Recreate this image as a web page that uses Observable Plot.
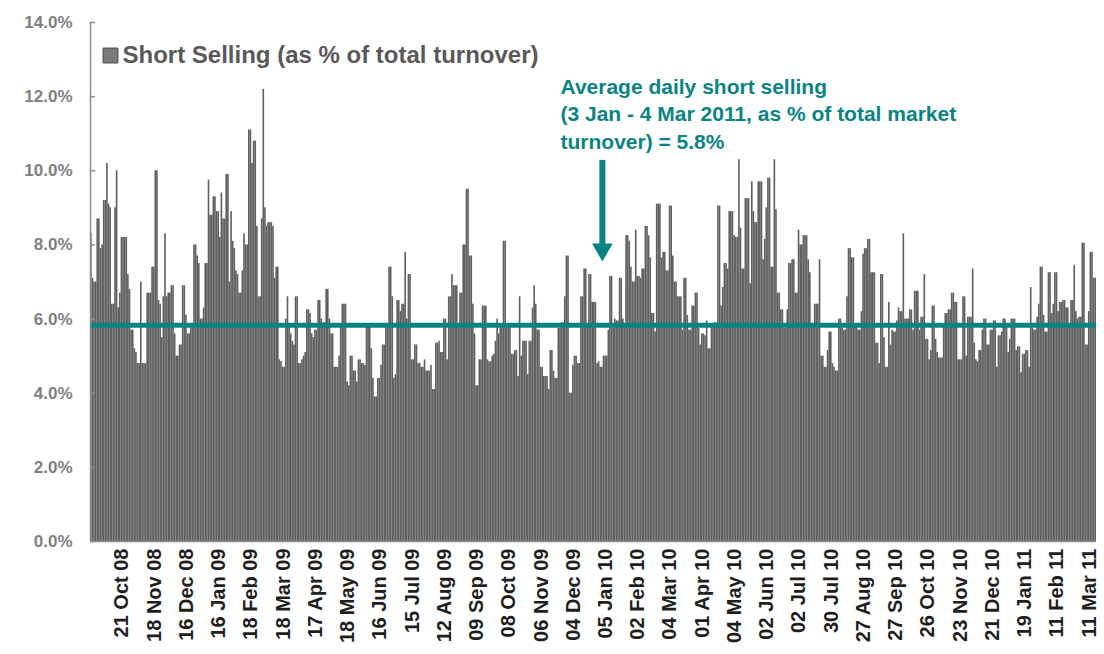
<!DOCTYPE html>
<html><head><meta charset="utf-8">
<script src="https://cdn.jsdelivr.net/npm/d3@7"></script>
<script src="https://cdn.jsdelivr.net/npm/@observablehq/plot@0.6"></script>
<style>body{margin:0;background:#fff}#chart svg{display:block}</style>
</head><body><div id="chart"></div>
<script>
// Daily short selling as % of total turnover (trading days, Sep 2008 - Mar 2011)
const shortSelling = [
// Sep-Oct 08
8.3,7.1,7.0,7.0,8.7,8.7,7.9,8.0,9.2,9.2,10.2,9.1,9.0,6.4,6.4,9.0,10.0,6.3,6.7,8.2,8.2,8.2,8.2,7.2,6.8,5.7,5.7,5.2,5.1,4.8,4.8,7.0,4.8,4.8,4.8,6.7,6.7,6.7,7.4,7.4,10.0,10.0,6.5,6.4,5.5,6.6,8.3,6.6,6.7,6.7,6.9,6.9,5.6,5.0,5.0,5.3,
// Dec 08 - Feb 09
5.3,6.9,6.9,6.1,5.6,5.6,5.8,5.8,8.0,8.0,7.7,7.5,6.0,6.0,6.3,7.5,7.5,9.75,8.8,8.8,9.3,9.3,8.9,8.9,8.2,9.4,8.7,8.7,9.9,9.9,7.0,8.9,8.1,7.9,7.3,7.2,6.7,6.7,7.3,8.3,8.0,8.0,11.1,11.1,10.2,10.8,10.8,8.5,6.6,6.6,8.7,12.2,9.0,8.5,8.6,8.6,8.6,
// Feb - May 09
8.5,7.1,7.4,7.4,4.9,4.85,4.7,4.7,6.0,6.6,5.8,5.6,5.4,5.3,6.6,6.6,4.8,4.8,4.9,5.0,5.1,6.25,6.25,6.15,5.6,5.5,5.7,5.7,6.5,6.5,6.0,5.9,5.9,6.8,6.8,6.0,5.6,5.6,4.7,4.7,4.7,5.0,5.8,6.4,6.4,6.4,4.3,4.2,5.0,5.0,4.6,4.6,4.3,4.9,4.9,4.8,4.8,
// May - Aug 09
4.75,5.8,5.8,5.8,5.2,4.4,3.9,3.9,4.4,4.4,4.75,5.3,5.3,5.8,5.8,7.4,7.4,6.6,4.4,4.5,6.5,6.5,6.2,6.4,6.4,7.8,6.0,7.2,7.2,4.9,4.9,5.3,5.3,4.8,4.8,4.7,4.7,4.9,4.6,4.6,4.6,4.75,4.1,4.1,5.35,5.35,5.4,5.1,5.1,6.0,6.0,4.9,6.6,6.6,7.2,6.9,6.9,
// Aug - Nov 09
6.9,5.8,6.7,6.7,8.0,8.0,9.5,9.5,7.7,7.7,6.4,5.6,4.2,4.2,4.9,4.9,6.35,6.35,6.35,4.9,4.85,4.85,5.0,5.05,5.4,6.0,5.6,5.8,5.8,8.1,8.1,5.75,5.8,5.8,5.05,5.05,5.15,5.15,4.45,6.6,5.0,5.4,5.4,5.4,4.5,5.4,5.4,6.3,6.9,6.4,5.7,5.7,4.7,4.7,4.45,4.45,4.45,
// Nov 09 - Feb 10
4.1,5.15,5.15,4.6,4.4,4.4,5.75,5.75,5.9,5.9,6.6,7.7,7.7,4.0,4.0,4.75,5.0,5.0,4.8,4.8,6.6,6.6,7.35,7.35,5.8,7.2,7.2,6.45,6.45,6.45,4.8,4.85,4.7,4.7,5.0,5.0,5.0,5.7,7.15,7.15,5.75,6.0,5.95,5.95,7.1,7.1,6.0,5.8,8.25,8.25,8.1,7.4,7.0,7.0,8.4,7.15,7.15,
// Feb - May 10
7.1,7.35,7.35,8.5,8.5,8.25,7.65,6.15,6.15,5.65,9.1,9.1,9.1,7.65,7.8,7.8,7.3,7.3,9.05,9.05,7.7,7.0,7.0,6.6,6.6,6.6,5.7,7.1,7.1,6.1,5.7,5.7,6.35,6.35,6.7,6.7,5.75,5.3,5.6,5.6,5.55,5.95,5.2,5.2,5.8,5.8,5.9,5.9,9.05,9.05,6.35,6.85,7.5,7.5,7.35,8.9,8.9,
// May - Jul 10
8.9,8.25,8.2,8.2,10.3,8.45,7.35,7.35,9.25,9.25,9.25,6.95,9.7,8.9,8.6,8.6,9.7,9.7,9.7,7.6,8.15,9.0,9.8,9.8,7.4,7.4,10.3,8.95,6.7,6.7,6.25,6.25,5.75,5.75,6.25,7.5,7.5,7.6,7.6,6.7,6.7,8.4,8.0,8.0,8.25,8.25,8.25,7.6,7.25,5.8,5.8,6.4,6.4,6.4,7.6,5.0,5.0,
// Jul - Oct 10
4.7,4.7,5.15,5.65,5.65,4.8,4.7,4.6,4.6,6.0,6.0,5.75,5.7,5.7,6.6,7.9,7.9,7.65,7.65,5.8,5.8,5.7,5.7,6.2,7.75,7.9,7.9,8.15,8.15,7.25,7.25,7.25,5.35,5.35,4.8,7.2,7.2,5.5,4.7,4.7,6.45,5.3,5.7,5.65,5.65,5.95,6.3,6.2,6.2,8.3,6.0,6.0,6.0,6.25,6.25,5.7,6.75,
// Oct 10 - Jan 11
6.75,6.75,5.7,6.05,6.05,7.2,5.45,5.45,4.9,5.15,6.35,6.35,5.45,5.1,4.95,4.95,4.95,5.8,6.15,6.15,6.25,6.25,6.7,6.7,6.45,6.45,4.9,4.9,4.9,6.6,6.6,5.0,6.05,6.05,6.05,7.35,5.35,4.9,4.85,5.15,5.15,5.7,6.0,6.0,5.3,5.3,5.7,5.7,5.95,5.95,4.7,5.55,5.55,5.65,6.0,6.0,5.8,
// Jan - Mar 11
5.1,5.45,6.0,6.0,6.0,5.15,5.25,5.25,4.55,5.05,5.05,5.15,5.15,4.7,6.85,5.75,5.7,5.7,6.05,6.4,7.4,7.4,6.1,5.65,5.65,7.25,7.25,6.15,6.4,7.25,7.25,6.2,6.45,6.45,6.5,6.5,6.3,6.3,5.8,6.5,6.5,7.45,6.2,6.0,6.05,6.05,8.05,8.05,5.3,5.3,6.2,7.8,7.8,7.1,7.1
];

// Category-axis labels, one every 20 trading days
const tickLabels = ["21 Oct 08","18 Nov 08","16 Dec 08","16 Jan 09","18 Feb 09","18 Mar 09","17 Apr 09","18 May 09","16 Jun 09","15 Jul 09","12 Aug 09","09 Sep 09","08 Oct 09","06 Nov 09","04 Dec 09","05 Jan 10","02 Feb 10","04 Mar 10","01 Apr 10","04 May 10","02 Jun 10","02 Jul 10","30 Jul 10","27 Aug 10","27 Sep 10","26 Oct 10","23 Nov 10","21 Dec 10","19 Jan 11","11 Feb 11","11 Mar 11"];
const firstLabelDay = 19;
const labelEvery = 20;

const yTicks = [0, 2, 4, 6, 8, 10, 12, 14];
const averageShortSelling = 5.83; // 3 Jan - 4 Mar 2011
const legendText = "Short Selling (as % of total turnover)";
const annotationText = "Average daily short selling\n(3 Jan - 4 Mar 2011, as % of total market\nturnover) = 5.8%";
const arrow = {day: 317, top: 10.28, neck: 7.9, tip: 7.55};

const n = shortSelling.length;
const teal = "#0a8482";
const barColor = "#5f5f5f";
const axisColor = "#8a8a8a";
const font = "'Liberation Sans', Arial, sans-serif";

const tickPos = tickLabels.map((_, k) => firstLabelDay + k * labelEvery + 0.5);
const labelAt = new Map(tickPos.map((p, k) => [p, tickLabels[k]]));
const plotW = 1104 - 90 - 8;
const tickLen = 5 * n / plotW;

const chart = Plot.plot({
  width: 1104,
  height: 654,
  marginLeft: 90,
  marginRight: 8,
  marginTop: 22,
  marginBottom: 113,
  style: {fontFamily: font, background: "#fff"},
  x: {domain: [0, n]},
  y: {domain: [0, 14]},
  marks: [
    Plot.rectY(shortSelling, {x1: (d, i) => i, x2: (d, i) => i + 1, y: d => d, fill: barColor}),
    Plot.ruleY([averageShortSelling], {stroke: teal, strokeWidth: 5}),
    Plot.ruleX([0], {stroke: axisColor, strokeWidth: 1.5}),
    Plot.ruleY([0], {stroke: axisColor, strokeWidth: 1.5}),
    Plot.ruleY(yTicks, {x1: 0, x2: tickLen, stroke: axisColor, strokeWidth: 1.5}),
    Plot.axisY({ticks: yTicks, tickFormat: d => d.toFixed(1) + "%", tickSize: 0, tickPadding: 18,
      fontSize: 17, fontWeight: "bold", color: "#7f7f7f", label: null}),
    Plot.axisX({ticks: tickPos, tickFormat: d => labelAt.get(d), tickRotate: -90, tickSize: 0, tickPadding: 7,
      fontSize: 20, fontWeight: "bold", color: "#1e1e1e", label: null}),
    // legend
    Plot.dot([legendText], {frameAnchor: "top-left", dx: 20, dy: 33, symbol: "square", r: 8.4,
      fill: "#7a7a7a", stroke: "#4a4a4a", strokeWidth: 1}),
    Plot.text([legendText], {frameAnchor: "top-left", dx: 32, dy: 33, text: d => d, textAnchor: "start",
      lineAnchor: "middle", fontSize: 24, fontWeight: "bold", fill: "#595959"}),
    // annotation
    Plot.text([annotationText], {frameAnchor: "top-left", dx: 470, dy: 90, text: d => d, textAnchor: "start",
      lineAnchor: "middle", lineHeight: 1.33, fontSize: 21, fontWeight: "bold", fill: teal}),
    Plot.ruleX([arrow], {x: d => d.day + 0.5, y1: d => d.top, y2: d => d.neck, stroke: teal, strokeWidth: 6}),
    Plot.dot([arrow], {x: d => d.day + 0.5, y: d => d.tip, dy: -12, symbol: "triangle", rotate: 180, r: 7.7,
      fill: teal, stroke: "none"})
  ]
});
document.getElementById("chart").append(chart);
</script>
</body></html>
